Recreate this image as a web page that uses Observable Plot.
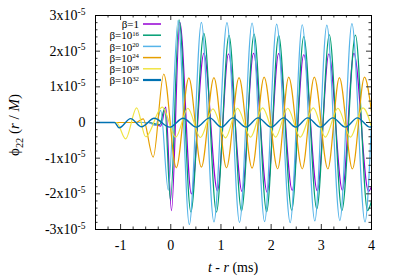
<!DOCTYPE html>
<html><head><meta charset="utf-8">
<script src="https://cdn.jsdelivr.net/npm/d3@7"></script>
<script src="https://cdn.jsdelivr.net/npm/@observablehq/plot@0.6"></script>
<style>body{margin:0;background:#fff}</style>
</head><body><div id="chart"></div>
<script>
// values in units of 1e-5 (phi_22 r/M), time in ms
const t_beta1 = [-1.5, -0.45, -0.2, -0.1, 0.014, 0.18, 0.41, 0.66, 0.93, 1.15, 1.42, 1.65, 1.92, 2.15, 2.42, 2.65, 2.92, 3.15, 3.42, 3.65, 3.94, 4.0];
const v_beta1 = [0, 0, -0.1, 0.43, -2.47, 2.81, -2.0, 1.94, -1.92, 1.92, -1.93, 1.94, -1.95, 1.93, -1.9, 1.9, -1.92, 1.92, -1.9, 1.94, -1.93, -1.8];

const t_beta16 = [-1.5, -0.45, -0.22, -0.12, -0.006, 0.165, 0.40, 0.66, 0.91, 1.16, 1.41, 1.66, 1.91, 2.15, 2.41, 2.65, 2.91, 3.16, 3.41, 3.68, 3.92, 4.0];
const v_beta16 = [0, 0, -0.06, 0.4, -2.18, 2.88, -2.51, 2.5, -2.51, 2.44, -2.48, 2.48, -2.5, 2.44, -2.46, 2.41, -2.42, 2.46, -2.47, 2.45, -2.47, -2.2];

const t_beta20 = [-1.5, -0.45, -0.3, -0.2, -0.05, 0.145, 0.37, 0.61, 0.86, 1.12, 1.37, 1.62, 1.87, 2.11, 2.38, 2.62, 2.87, 3.11, 3.37, 3.61, 3.87, 4.0];
const v_beta20 = [0, 0, -0.08, 0.34, -1.9, 2.86, -2.86, 2.81, -2.79, 2.8, -2.8, 2.79, -2.78, 2.76, -2.81, 2.74, -2.76, 2.73, -2.75, 2.77, -2.79, 0.0];

const t_beta24 = [-1.5, -0.7, -0.55, -0.35, -0.14, 0.11, 0.36, 0.61, 0.86, 1.11, 1.36, 1.62, 1.86, 2.13, 2.35, 2.62, 2.86, 3.13, 3.36, 3.62, 3.86, 4.0];
const v_beta24 = [0, 0, 0.1, -0.97, 1.36, -1.27, 1.25, -1.25, 1.26, -1.27, 1.26, -1.28, 1.27, -1.3, 1.27, -1.3, 1.27, -1.3, 1.26, -1.3, 1.27, 0.3];

const t_beta28 = [-1.5, -1.08, -0.9, -0.68, -0.5, -0.17, 0.1, 0.34, 0.59, 0.84, 1.09, 1.33, 1.59, 1.83, 2.09, 2.33, 2.58, 2.84, 3.08, 3.33, 3.58, 3.83, 4.0];
const v_beta28 = [0, 0, -0.46, 0.41, -0.4, 0.43, -0.41, 0.4, -0.42, 0.38, -0.43, 0.4, -0.41, 0.41, -0.41, 0.4, -0.41, 0.41, -0.41, 0.4, -0.41, 0.41, -0.12];

const t_beta32 = [-1.5, -1.12, -1.03, -0.8, -0.58, -0.33, -0.02, 0.245, 0.51, 0.775, 1.01, 1.24, 1.5, 1.74, 2.0, 2.25, 2.49, 2.73, 2.98, 3.23, 3.48, 3.72, 3.97, 4.0];
const v_beta32 = [0, 0, -0.15, 0.11, -0.12, 0.12, -0.13, 0.12, -0.13, 0.13, -0.13, 0.13, -0.13, 0.13, -0.13, 0.13, -0.13, 0.13, -0.13, 0.13, -0.13, 0.13, -0.13, -0.12];

const seriesLabels = ["β=1", "β=10^{16}", "β=10^{20}", "β=10^{24}", "β=10^{28}", "β=10^{32}"];
const xTicks = [-1, 0, 1, 2, 3, 4];
const xTickLabels = ["-1", "0", "1", "2", "3", "4"];
const yTicks = [-3, -2, -1, 0, 1, 2, 3];
const yTickLabels = ["-3x10^{-5}", "-2x10^{-5}", "-1x10^{-5}", "0", "1x10^{-5}", "2x10^{-5}", "3x10^{-5}"];
const xLabel = "*t* - *r* (ms)";
const yLabel = "ϕ_{22} (*r* / *M*)";

const colors = ["#9400d3", "#009e73", "#56b4e9", "#e69f00", "#f0e442", "#0072b2"];
const widths = [1.2, 1.2, 1.2, 1.2, 1.2, 1.4];
const ts = [t_beta1, t_beta16, t_beta20, t_beta24, t_beta28, t_beta32];
const vs = [v_beta1, v_beta16, v_beta20, v_beta24, v_beta28, v_beta32];

const fontStack = '"Liberation Serif", "DejaVu Serif", serif';

const W = 399, H = 279, mL = 95, mR = 28, mT = 15, mB = 50;
const innerH = H - mT - mB, innerW = W - mL - mR;
const major = 5, minor = 2.5;
const xMinor = d3.range(-1.5, 4.0001, 0.25).filter(d => !xTicks.includes(d));
const yMinor = d3.range(-3, 3.0001, 0.2).map(d => Math.round(d * 10) / 10).filter(d => !yTicks.includes(d));

const tickStyle = {stroke: "#333", strokeWidth: 1};
const marks = [];
ts.forEach((t, k) => {
  marks.push(Plot.line(t.map((x, i) => ({t: x, v: vs[k][i]})), {x: "t", y: "v", stroke: colors[k], strokeWidth: widths[k], curve: "monotone-x"}));
});
marks.push(
  Plot.tickX(xTicks, {x: d => d, insetTop: innerH - major, ...tickStyle}),
  Plot.tickX(xTicks, {x: d => d, insetBottom: innerH - major, ...tickStyle}),
  Plot.tickX(xMinor, {x: d => d, insetTop: innerH - minor, ...tickStyle}),
  Plot.tickX(xMinor, {x: d => d, insetBottom: innerH - minor, ...tickStyle}),
  Plot.tickY(yTicks, {y: d => d, insetRight: innerW - major, ...tickStyle}),
  Plot.tickY(yTicks, {y: d => d, insetLeft: innerW - major, ...tickStyle}),
  Plot.tickY(yMinor, {y: d => d, insetRight: innerW - minor, ...tickStyle}),
  Plot.tickY(yMinor, {y: d => d, insetLeft: innerW - minor, ...tickStyle}),
  Plot.frame({stroke: "#000", strokeWidth: 1}),
  Plot.axisX({ticks: xTicks, tickSize: 0, tickPadding: 11, tickFormat: d => xTickLabels[xTicks.indexOf(d)], label: null}),
  Plot.axisY({ticks: yTicks, tickSize: 0, tickPadding: 10, tickFormat: d => yTickLabels[yTicks.indexOf(d)], label: null})
);

const svg = Plot.plot({
  width: W, height: H, marginLeft: mL, marginRight: mR, marginTop: mT, marginBottom: mB,
  x: {domain: [-1.5, 4]},
  y: {domain: [-3, 3]},
  style: {fontSize: "14px", fontFamily: fontStack, color: "#000", background: "#fff"},
  marks
});
document.getElementById("chart").appendChild(svg);

const ns = "http://www.w3.org/2000/svg";
const sel = d3.select(svg);
// legend
const lg = sel.append("g").attr("font-size", 11).attr("class", "legend");
seriesLabels.forEach((lab, i) => {
  const y = 24 + i * 11.2;
  lg.append("text").attr("x", 139).attr("y", y).attr("dy", "0.38em").attr("text-anchor", "end").text(lab);
  lg.append("line").attr("x1", 143).attr("x2", 161).attr("y1", y).attr("y2", y).attr("stroke", colors[i]).attr("stroke-width", i === 5 ? 2.2 : 1.5);
});
sel.append("text").attr("x", mL + innerW / 2).attr("y", 272).attr("text-anchor", "middle").attr("font-size", 14).text(xLabel);
sel.append("text").attr("transform", `translate(19,${mT + innerH / 2 + 3}) rotate(-90)`).attr("text-anchor", "middle").attr("font-size", 15).text(yLabel);

function richify(el, raise, scale) {
  const s = el.textContent;
  if (!/[\^_]\{|\*/.test(s) || el.querySelector("tspan")) return;
  const fs = parseFloat(getComputedStyle(el).fontSize) || 14;
  const parts = s.split(/(\^\{[^}]*\}|_\{[^}]*\}|\*[^*]*\*)/).filter(p => p !== "");
  el.textContent = "";
  let shift = 0;
  for (const p of parts) {
    const tsp = document.createElementNS(ns, "tspan");
    let target = 0, txt = p, small = false, italic = false;
    if (p.startsWith("^{")) { target = -raise * fs; txt = p.slice(2, -1); small = true; }
    else if (p.startsWith("_{")) { target = 0.25 * fs; txt = p.slice(2, -1); small = true; }
    else if (p.startsWith("*")) { txt = p.slice(1, -1); italic = true; }
    if (target !== shift) tsp.setAttribute("dy", target - shift);
    shift = target;
    if (small) tsp.setAttribute("font-size", scale * fs);
    if (italic) tsp.setAttribute("font-style", "italic");
    tsp.textContent = txt;
    el.appendChild(tsp);
  }
}
svg.querySelectorAll("text").forEach(el => {
  const inLegend = el.closest("g.legend") !== null;
  richify(el, inLegend ? 0.3 : 0.38, inLegend ? 0.62 : 0.68);
});
</script></body></html>
